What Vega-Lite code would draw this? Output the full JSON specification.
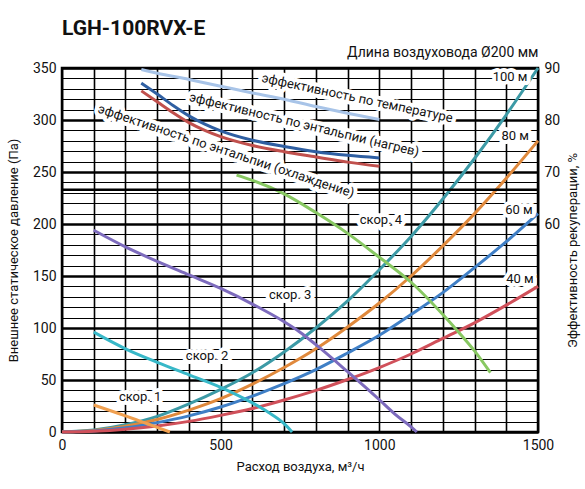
{
  "$schema": "https://vega.github.io/schema/vega-lite/v6.json",
  "width": 476,
  "height": 364,
  "autosize": {"type": "none"},
  "padding": {"left": 62, "top": 68, "right": 47, "bottom": 57},
  "title": {"text": "LGH-100RVX-E", "anchor": "start", "frame": "group", "fontSize": 21, "fontWeight": "bold", "font": "Roboto", "color": "#111", "offset": 6},
  "config": {
    "font": "Roboto",
    "view": {"stroke": "#000", "strokeWidth": 2.5},
    "axis": {"labelFont": "Roboto", "titleFont": "Roboto", "labelFontSize": 14, "titleFontSize": 13, "titleFontWeight": "normal", "labelColor": "#111", "titleColor": "#111", "labelOverlap": false},
    "text": {"font": "Roboto", "fontSize": 13, "color": "#111"}
  },
  "datasets": {
    "pa": [
      {"s": "100 м", "x": 0, "p": 0}, {"s": "100 м", "x": 100, "p": 2}, {"s": "100 м", "x": 200, "p": 7}, {"s": "100 м", "x": 300, "p": 15},
      {"s": "100 м", "x": 400, "p": 27}, {"s": "100 м", "x": 500, "p": 41}, {"s": "100 м", "x": 600, "p": 57}, {"s": "100 м", "x": 700, "p": 77},
      {"s": "100 м", "x": 800, "p": 100}, {"s": "100 м", "x": 900, "p": 126}, {"s": "100 м", "x": 1000, "p": 156}, {"s": "100 м", "x": 1100, "p": 188},
      {"s": "100 м", "x": 1200, "p": 224}, {"s": "100 м", "x": 1300, "p": 263}, {"s": "100 м", "x": 1400, "p": 305}, {"s": "100 м", "x": 1500, "p": 350},
      {"s": "80 м", "x": 0, "p": 0}, {"s": "80 м", "x": 100, "p": 1.5}, {"s": "80 м", "x": 200, "p": 5.5}, {"s": "80 м", "x": 300, "p": 12},
      {"s": "80 м", "x": 400, "p": 21}, {"s": "80 м", "x": 500, "p": 32}, {"s": "80 м", "x": 600, "p": 46}, {"s": "80 м", "x": 700, "p": 62},
      {"s": "80 м", "x": 800, "p": 80}, {"s": "80 м", "x": 900, "p": 101}, {"s": "80 м", "x": 1000, "p": 124}, {"s": "80 м", "x": 1100, "p": 150},
      {"s": "80 м", "x": 1200, "p": 179}, {"s": "80 м", "x": 1300, "p": 210}, {"s": "80 м", "x": 1400, "p": 244}, {"s": "80 м", "x": 1500, "p": 280},
      {"s": "60 м", "x": 0, "p": 0}, {"s": "60 м", "x": 100, "p": 1}, {"s": "60 м", "x": 200, "p": 4}, {"s": "60 м", "x": 300, "p": 9},
      {"s": "60 м", "x": 400, "p": 15.5}, {"s": "60 м", "x": 500, "p": 24}, {"s": "60 м", "x": 600, "p": 34.5}, {"s": "60 м", "x": 700, "p": 46.5},
      {"s": "60 м", "x": 800, "p": 60}, {"s": "60 м", "x": 900, "p": 76}, {"s": "60 м", "x": 1000, "p": 93}, {"s": "60 м", "x": 1100, "p": 113},
      {"s": "60 м", "x": 1200, "p": 134}, {"s": "60 м", "x": 1300, "p": 158}, {"s": "60 м", "x": 1400, "p": 183}, {"s": "60 м", "x": 1500, "p": 210},
      {"s": "40 м", "x": 0, "p": 0}, {"s": "40 м", "x": 100, "p": 0.7}, {"s": "40 м", "x": 200, "p": 2.6}, {"s": "40 м", "x": 300, "p": 5.8},
      {"s": "40 м", "x": 400, "p": 10.2}, {"s": "40 м", "x": 500, "p": 16}, {"s": "40 м", "x": 600, "p": 22.6}, {"s": "40 м", "x": 700, "p": 30.8},
      {"s": "40 м", "x": 800, "p": 40}, {"s": "40 м", "x": 900, "p": 50.5}, {"s": "40 м", "x": 1000, "p": 62}, {"s": "40 м", "x": 1100, "p": 75},
      {"s": "40 м", "x": 1200, "p": 90}, {"s": "40 м", "x": 1300, "p": 105}, {"s": "40 м", "x": 1400, "p": 122}, {"s": "40 м", "x": 1500, "p": 140},
      {"s": "скор. 1", "x": 100, "p": 26}, {"s": "скор. 1", "x": 200, "p": 15.5}, {"s": "скор. 1", "x": 250, "p": 10}, {"s": "скор. 1", "x": 300, "p": 4.5}, {"s": "скор. 1", "x": 340, "p": 0},
      {"s": "скор. 2", "x": 100, "p": 96}, {"s": "скор. 2", "x": 200, "p": 80}, {"s": "скор. 2", "x": 300, "p": 67}, {"s": "скор. 2", "x": 400, "p": 55},
      {"s": "скор. 2", "x": 500, "p": 43}, {"s": "скор. 2", "x": 600, "p": 28}, {"s": "скор. 2", "x": 650, "p": 19}, {"s": "скор. 2", "x": 700, "p": 8}, {"s": "скор. 2", "x": 725, "p": 0},
      {"s": "скор. 3", "x": 100, "p": 194}, {"s": "скор. 3", "x": 200, "p": 178}, {"s": "скор. 3", "x": 300, "p": 164}, {"s": "скор. 3", "x": 400, "p": 151},
      {"s": "скор. 3", "x": 500, "p": 138}, {"s": "скор. 3", "x": 600, "p": 123}, {"s": "скор. 3", "x": 700, "p": 106}, {"s": "скор. 3", "x": 750, "p": 96},
      {"s": "скор. 3", "x": 800, "p": 84}, {"s": "скор. 3", "x": 900, "p": 58}, {"s": "скор. 3", "x": 1000, "p": 31}, {"s": "скор. 3", "x": 1050, "p": 17},
      {"s": "скор. 3", "x": 1100, "p": 5}, {"s": "скор. 3", "x": 1118, "p": 0},
      {"s": "скор. 4", "x": 550, "p": 247}, {"s": "скор. 4", "x": 600, "p": 242}, {"s": "скор. 4", "x": 700, "p": 229}, {"s": "скор. 4", "x": 800, "p": 211},
      {"s": "скор. 4", "x": 900, "p": 191}, {"s": "скор. 4", "x": 1000, "p": 168}, {"s": "скор. 4", "x": 1100, "p": 144}, {"s": "скор. 4", "x": 1200, "p": 113},
      {"s": "скор. 4", "x": 1250, "p": 96}, {"s": "скор. 4", "x": 1300, "p": 78}, {"s": "скор. 4", "x": 1350, "p": 57}
    ],
    "eff": [
      {"s": "темп", "x": 250, "e": 89.7}, {"s": "темп", "x": 300, "e": 89}, {"s": "темп", "x": 400, "e": 87.8}, {"s": "темп", "x": 500, "e": 86.5},
      {"s": "темп", "x": 600, "e": 85.2}, {"s": "темп", "x": 700, "e": 84}, {"s": "темп", "x": 800, "e": 82.6}, {"s": "темп", "x": 900, "e": 81.3}, {"s": "темп", "x": 1000, "e": 80.1},
      {"s": "нагрев", "x": 250, "e": 87.1}, {"s": "нагрев", "x": 300, "e": 85}, {"s": "нагрев", "x": 350, "e": 82.8}, {"s": "нагрев", "x": 400, "e": 80.8},
      {"s": "нагрев", "x": 450, "e": 79.2}, {"s": "нагрев", "x": 500, "e": 77.9}, {"s": "нагрев", "x": 600, "e": 76.1}, {"s": "нагрев", "x": 700, "e": 74.9},
      {"s": "нагрев", "x": 800, "e": 73.9}, {"s": "нагрев", "x": 900, "e": 73.2}, {"s": "нагрев", "x": 1000, "e": 72.7},
      {"s": "охлаждение", "x": 250, "e": 85.6}, {"s": "охлаждение", "x": 300, "e": 83.5}, {"s": "охлаждение", "x": 350, "e": 81.4}, {"s": "охлаждение", "x": 400, "e": 79.5},
      {"s": "охлаждение", "x": 450, "e": 78}, {"s": "охлаждение", "x": 500, "e": 76.8}, {"s": "охлаждение", "x": 600, "e": 75.1}, {"s": "охлаждение", "x": 700, "e": 73.9},
      {"s": "охлаждение", "x": 800, "e": 72.9}, {"s": "охлаждение", "x": 900, "e": 71.9}, {"s": "охлаждение", "x": 1000, "e": 71.1}
    ],
    "lab": [
      {"t": "скор. 1", "x": 246, "p": 33.5},
      {"t": "скор. 2", "x": 457, "p": 73},
      {"t": "скор. 3", "x": 719, "p": 131.5},
      {"t": "скор. 4", "x": 1005, "p": 204},
      {"t": "100 м", "x": 1412, "p": 341},
      {"t": "80 м", "x": 1428, "p": 285},
      {"t": "60 м", "x": 1440, "p": 213},
      {"t": "40 м", "x": 1443, "p": 147}
    ]
  },
  "resolve": {"scale": {"y": "independent"}, "axis": {"x": "independent"}},
  "layer": [
    {
      "resolve": {"axis": {"x": "independent", "y": "independent"}},
      "layer": [
        {
          "data": {"name": "pa"},
          "mark": {"type": "line", "strokeWidth": 3, "interpolate": "monotone"},
          "encoding": {
            "x": {
              "field": "x", "type": "quantitative",
              "scale": {"domain": [0, 1500], "nice": false},
              "axis": {
                "orient": "bottom",
                "values": [0, 100, 200, 300, 400, 500, 600, 700, 800, 900, 1000, 1100, 1200, 1300, 1400, 1500],
                "labels": false, "ticks": false, "domain": false, "title": null,
                "grid": true, "gridColor": "#000", "gridWidth": 1.6, "gridOpacity": 1
              }
            },
            "y": {
              "field": "p", "type": "quantitative",
              "scale": {"domain": [0, 350], "nice": false},
              "axis": {
                "orient": "left",
                "values": [0, 10, 20, 30, 40, 50, 60, 70, 80, 90, 100, 110, 120, 130, 140, 150, 160, 170, 180, 190, 200, 210, 220, 230, 240, 250, 260, 270, 280, 290, 300, 310, 320, 330, 340, 350],
                "labels": false, "ticks": false, "domain": false, "title": null,
                "grid": true, "gridColor": "#000", "gridOpacity": 1,
                "gridWidth": {"condition": {"test": "datum.value % 50 === 0", "value": 2.6}, "value": 1}
              }
            },
            "color": {
              "field": "s", "type": "nominal", "legend": null,
              "scale": {
                "domain": ["100 м", "80 м", "60 м", "40 м", "скор. 1", "скор. 2", "скор. 3", "скор. 4", "темп", "нагрев", "охлаждение"],
                "range": ["#3c9aa6", "#e0893c", "#3f7fc6", "#d0505a", "#f0a050", "#38b8c8", "#7d6bbd", "#88c862", "#a8c4e8", "#2f5fa2", "#c0504d"]
              }
            }
          }
        },
        {
          "data": {"values": [{"p": 233}]},
          "mark": {"type": "rule", "strokeWidth": 2.5, "color": "#000"},
          "encoding": {
            "y": {
              "field": "p", "type": "quantitative",
              "axis": {"orient": "left", "values": [0, 50, 100, 150, 200, 250, 300, 350], "grid": false, "ticks": false, "domain": false,
                "labelPadding": 6, "title": "Внешнее статическое давление (Па)", "titlePadding": 12}
            }
          }
        },
        {
          "data": {"name": "lab"},
          "mark": {"type": "text", "stroke": "#fff", "strokeWidth": 8, "strokeJoin": "round", "fill": "#fff", "fontSize": 13},
          "encoding": {
            "x": {
              "field": "x", "type": "quantitative",
              "axis": {"orient": "bottom", "values": [0, 500, 1000, 1500], "format": "d", "labelFlush": false, "grid": false, "ticks": false, "domain": false,
                "labelPadding": 6, "title": "Расход воздуха, м³/ч", "titlePadding": 8}
            },
            "y": {"field": "p", "type": "quantitative", "axis": null},
            "text": {"field": "t"}
          }
        },
        {
          "data": {"name": "lab"},
          "mark": {"type": "text", "fontSize": 13, "color": "#111"},
          "encoding": {
            "x": {"field": "x", "type": "quantitative", "axis": null},
            "y": {"field": "p", "type": "quantitative", "axis": null},
            "text": {"field": "t"}
          }
        }
      ]
    },
    {
      "layer": [
        {
          "data": {"name": "eff"},
          "mark": {"type": "line", "strokeWidth": 3, "interpolate": "monotone"},
          "encoding": {
            "x": {
              "field": "x", "type": "quantitative",
              "scale": {"domain": [0, 1500], "nice": false},
              "axis": {"orient": "top", "labels": false, "ticks": false, "domain": false, "grid": false,
                "title": "Длина воздуховода Ø200 мм", "titleAnchor": "end", "titleFontSize": 14, "titlePadding": 9}
            },
            "y": {
              "field": "e", "type": "quantitative",
              "scale": {"domain": [20, 90], "nice": false},
              "axis": {"orient": "right", "values": [60, 70, 80, 90], "grid": false, "ticks": false, "domain": false,
                "labelPadding": 6, "title": "Эффективность рекуперации, %", "titleAngle": 270, "titleBaseline": "top", "titlePadding": 7}
            },
            "color": {"field": "s", "type": "nominal", "legend": null}
          }
        },
        {
          "data": {"values": [{"t": "эффективность по температуре", "x": 930, "e": 84.2}]},
          "layer": [
            {"mark": {"type": "text", "angle": 12, "stroke": "#fff", "strokeWidth": 8, "strokeJoin": "round", "fill": "#fff", "fontSize": 13}},
            {"mark": {"type": "text", "angle": 12, "fontSize": 13, "color": "#111"}}
          ],
          "encoding": {
            "x": {"field": "x", "type": "quantitative"},
            "y": {"field": "e", "type": "quantitative"},
            "text": {"field": "t"}
          }
        },
        {
          "data": {"values": [{"t": "эффективность по энтальпии (нагрев)", "x": 763, "e": 79.1}]},
          "layer": [
            {"mark": {"type": "text", "angle": 13.6, "stroke": "#fff", "strokeWidth": 8, "strokeJoin": "round", "fill": "#fff", "fontSize": 13}},
            {"mark": {"type": "text", "angle": 13.6, "fontSize": 13, "color": "#111"}}
          ],
          "encoding": {
            "x": {"field": "x", "type": "quantitative"},
            "y": {"field": "e", "type": "quantitative"},
            "text": {"field": "t"}
          }
        },
        {
          "data": {"values": [{"t": "эффективность по энтальпии (охлаждение)", "x": 517, "e": 74}]},
          "layer": [
            {"mark": {"type": "text", "angle": 18.5, "stroke": "#fff", "strokeWidth": 8, "strokeJoin": "round", "fill": "#fff", "fontSize": 13}},
            {"mark": {"type": "text", "angle": 18.5, "fontSize": 13, "color": "#111"}}
          ],
          "encoding": {
            "x": {"field": "x", "type": "quantitative"},
            "y": {"field": "e", "type": "quantitative"},
            "text": {"field": "t"}
          }
        }
      ]
    }
  ]
}
